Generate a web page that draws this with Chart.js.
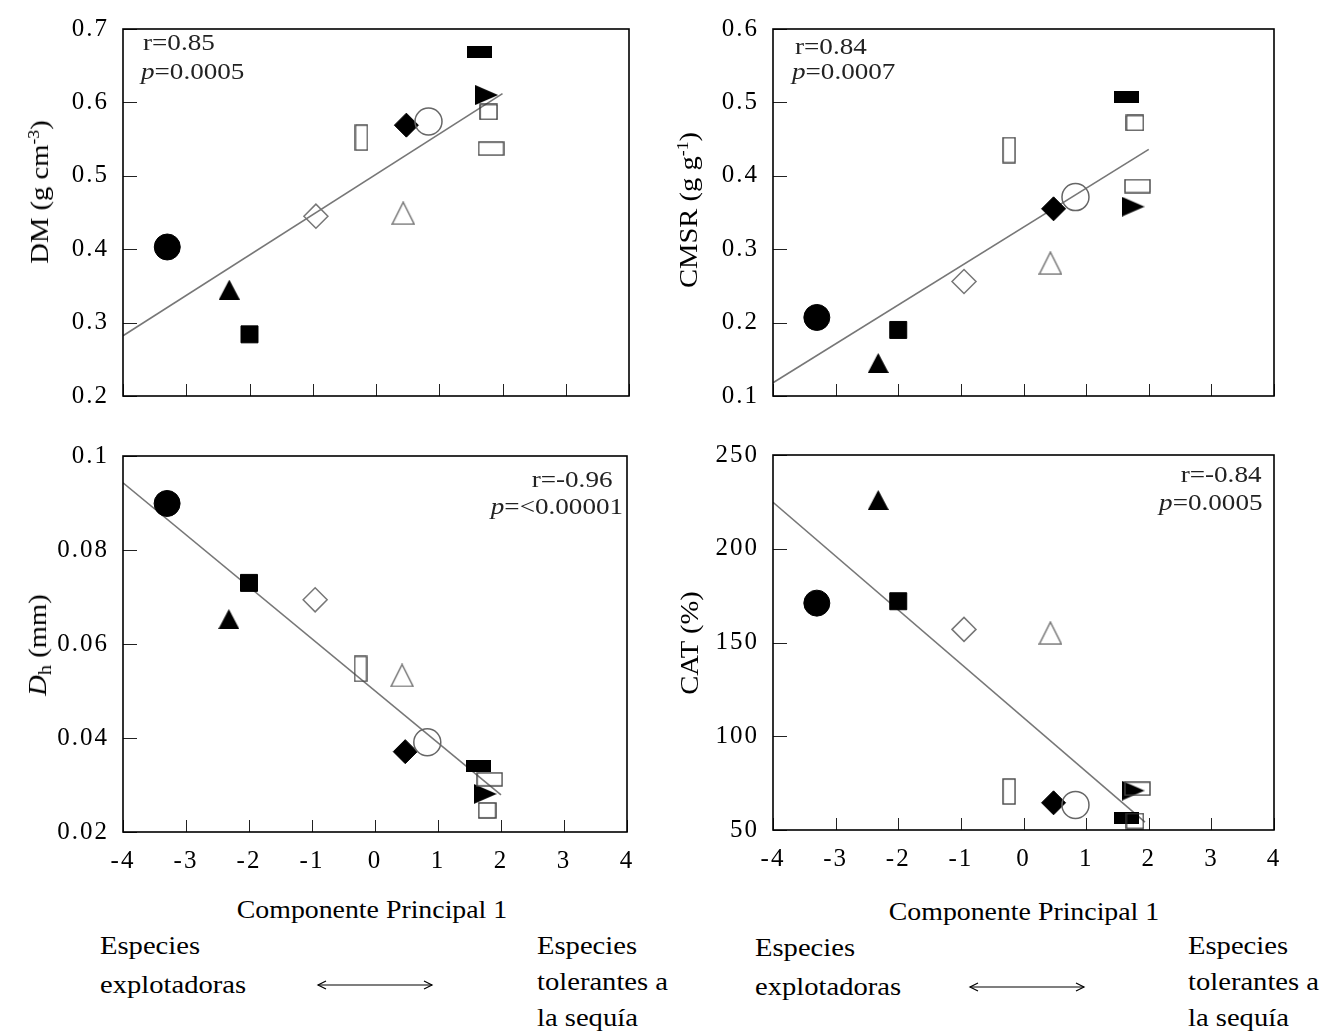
<!DOCTYPE html>
<html>
<head>
<meta charset="utf-8">
<script src="https://cdn.jsdelivr.net/npm/chart.js@4.4.1/dist/chart.umd.min.js"></script>
<style>
  html, body { margin: 0; padding: 0; background: #fff; }
  body { position: relative; width: 1324px; height: 1032px; overflow: hidden;
         font-family: 'Liberation Serif', 'Times New Roman', serif; color: #000; }
  canvas { position: absolute; }
  .t { position: absolute; white-space: nowrap; font-size: 26px; line-height: 26px; }
  .l { transform: scaleX(1.1); transform-origin: 0 0; }
  .r { transform: scaleX(1.1); transform-origin: 100% 0; }
  .c { transform: translateX(-50%) scaleX(1.07); }
  .v { transform: translate(-50%, -50%) rotate(-90deg) scaleX(1.1); }
  .note { font-size: 24px; line-height: 24px; color: #222; }
  .note.l { transform: scaleX(1.13); }
  .note.r { transform: scaleX(1.13); }
  sup { font-size: 0.62em; vertical-align: 0.55em; line-height: 0; }
  sub { font-size: 0.7em; vertical-align: -0.25em; line-height: 0; }
  svg { position: absolute; }
</style>
</head>
<body>
<canvas id="cDM" width="662" height="425" style="left:0;top:0"></canvas>
<canvas id="cCMSR" width="662" height="425" style="left:662px;top:0"></canvas>
<canvas id="cDH" width="662" height="460" style="left:0;top:425px"></canvas>
<canvas id="cCAT" width="662" height="460" style="left:662px;top:425px"></canvas>

<!-- axis titles -->
<div class="t v" style="left:40px;top:192px">DM (g cm<sup>-3</sup>)</div>
<div class="t v" style="left:689px;top:210px">CMSR (g g<sup>-1</sup>)</div>
<div class="t v" style="left:38px;top:645px"><i>D</i><sub>h</sub> (mm)</div>
<div class="t v" style="left:690px;top:643px">CAT (%)</div>
<div class="t c" style="left:372px;top:897px">Componente Principal 1</div>
<div class="t c" style="left:1024px;top:899px">Componente Principal 1</div>

<!-- correlation notes -->
<div class="t note l" style="left:143px;top:30px">r=0.85</div>
<div class="t note l" style="left:141px;top:59px"><i>p</i>=0.0005</div>
<div class="t note l" style="left:795px;top:34px">r=0.84</div>
<div class="t note l" style="left:792px;top:59px"><i>p</i>=0.0007</div>
<div class="t note r" style="right:711px;top:467px">r=-0.96</div>
<div class="t note r" style="right:701px;top:494px"><i>p</i>=&lt;0.00001</div>
<div class="t note r" style="right:62px;top:462px">r=-0.84</div>
<div class="t note r" style="right:61px;top:490px"><i>p</i>=0.0005</div>

<!-- gradient captions -->
<div class="t l" style="left:100px;top:933px">Especies</div>
<div class="t l" style="left:100px;top:972px">explotadoras</div>
<div class="t l" style="left:537px;top:933px">Especies</div>
<div class="t l" style="left:537px;top:969px">tolerantes a</div>
<div class="t l" style="left:537px;top:1005px">la sequía</div>
<div class="t l" style="left:755px;top:935px">Especies</div>
<div class="t l" style="left:755px;top:974px">explotadoras</div>
<div class="t l" style="left:1188px;top:933px">Especies</div>
<div class="t l" style="left:1188px;top:969px">tolerantes a</div>
<div class="t l" style="left:1188px;top:1005px">la sequía</div>

<svg style="left:316px;top:975px" width="118" height="20">
  <g fill="none" stroke="#000" stroke-width="1.2">
    <line x1="2" y1="10" x2="116" y2="10"/>
    <polyline points="10,6 2,10 10,14"/>
    <polyline points="108,6 116,10 108,14"/>
  </g>
</svg>
<svg style="left:968px;top:977px" width="118" height="20">
  <g fill="none" stroke="#000" stroke-width="1.2">
    <line x1="2" y1="10" x2="116" y2="10"/>
    <polyline points="10,6 2,10 10,14"/>
    <polyline points="108,6 116,10 108,14"/>
  </g>
</svg>

<script>
// Principal component 1 score of each species (same order in every array below)
const species = ['s1', 's2', 's3', 's4', 's5', 's6', 's7', 's8', 's9', 's10', 's11', 's12'];
const pc1  = [-3.30, -2.32, -2.00, -0.95, -0.23, 0.43, 0.48, 0.83, 1.64, 1.75, 1.78, 1.82];

// Trait values per species
const dm   = [0.403, 0.345, 0.284, 0.445, 0.552, 0.449, 0.569, 0.574, 0.669, 0.610, 0.587, 0.537];
const cmsr = [0.207, 0.145, 0.190, 0.256, 0.435, 0.281, 0.355, 0.371, 0.507, 0.358, 0.472, 0.386];
const dh   = [0.0899, 0.0653, 0.0730, 0.0694, 0.0547, 0.0533, 0.0371, 0.0391, 0.0340, 0.0281, 0.0246, 0.0312];
const cat  = [171, 226, 172, 157, 70.5, 155, 64.5, 63.4, 56.5, 71, 54.8, 72];

// Fitted regression lines (two end points each)
const dmFitX   = [-4, 2];    const dmFitY   = [0.282, 0.612];
const cmsrFitX = [-4, 2];    const cmsrFitY = [0.118, 0.436];
const dhFitX   = [-4, 2];    const dhFitY   = [0.0943, 0.0279];
const catFitX  = [-4, 1.94]; const catFitY  = [224.8, 54.2];

// Tick values and their labels
const xTicks        = [-4, -3, -2, -1, 0, 1, 2, 3, 4];
const xTickLabels   = ['-4', '-3', '-2', '-1', '0', '1', '2', '3', '4'];
const dmTicks       = [0.2, 0.3, 0.4, 0.5, 0.6, 0.7];
const dmTickLabels  = ['0.2', '0.3', '0.4', '0.5', '0.6', '0.7'];
const cmsrTicks     = [0.1, 0.2, 0.3, 0.4, 0.5, 0.6];
const cmsrTickLabels= ['0.1', '0.2', '0.3', '0.4', '0.5', '0.6'];
const dhTicks       = [0.02, 0.04, 0.06, 0.08, 0.1];
const dhTickLabels  = ['0.02', '0.04', '0.06', '0.08', '0.1'];
const catTicks      = [50, 100, 150, 200, 250];
const catTickLabels = ['50', '100', '150', '200', '250'];

// ---- marker glyphs ----
function glyph(w, h, draw) {
  const c = document.createElement('canvas');
  c.width = w; c.height = h;
  draw(c.getContext('2d'), w, h);
  return c;
}
const tallRectOpen = glyph(14, 27, g => { g.strokeStyle = '#444'; g.lineWidth = 1.4; g.strokeRect(1, 1, 12, 25); });
const wideRectOpen = glyph(27, 15, g => { g.strokeStyle = '#444'; g.lineWidth = 1.4; g.strokeRect(1, 1, 25, 13); });
const wideRectFill = glyph(25, 12, g => { g.fillStyle = '#000'; g.fillRect(0, 0, 25, 12); });
const squareOpen   = glyph(19, 17, g => { g.strokeStyle = '#333'; g.lineWidth = 1.4; g.strokeRect(1, 1, 17, 15); });
const triUpFill    = glyph(21, 20, g => { g.fillStyle = '#000'; g.beginPath(); g.moveTo(10.5, 0); g.lineTo(21, 20); g.lineTo(0, 20); g.closePath(); g.fill(); });
const triUpOpen    = glyph(24, 24, g => { g.strokeStyle = '#777'; g.lineWidth = 1.5; g.beginPath(); g.moveTo(12, 1); g.lineTo(23, 23); g.lineTo(1, 23); g.closePath(); g.stroke(); });
const triRightFill = glyph(23, 20, g => { g.fillStyle = '#000'; g.beginPath(); g.moveTo(0, 0); g.lineTo(23, 10); g.lineTo(0, 20); g.closePath(); g.fill(); });

const markerStyle  = ['circle', triUpFill, 'rect', 'rectRot', tallRectOpen, triUpOpen, 'rectRot', 'circle', wideRectFill, triRightFill, squareOpen, wideRectOpen];
const markerRadius = [13, 10, 12, 12, 10, 10, 12, 13.5, 10, 10, 10, 10];
const markerFill   = ['#000', '#000', '#000', 'rgba(0,0,0,0)', '#000', '#000', '#000', 'rgba(0,0,0,0)', '#000', '#000', '#000', '#000'];
const markerLine   = ['#000', '#000', '#000', '#777', '#444', '#777', '#000', '#666', '#000', '#000', '#333', '#444'];
const markerWidth  = [1, 0, 1, 1.5, 0, 0, 1, 1.5, 0, 0, 0, 0];

Chart.defaults.color = '#000';
Chart.defaults.font.family = "'Liberation Serif', 'Times New Roman', serif";
Chart.defaults.font.size = 25;

// plot frame and inward tick marks
const frameTicks = {
  id: 'frameTicks',
  beforeLayout(chart) { chart.ctx.letterSpacing = '2px'; },
  beforeDraw(chart) { chart.ctx.letterSpacing = '2px'; },
  afterDraw(chart) {
    const { ctx, chartArea: a, scales: { x, y } } = chart;
    ctx.save();
    ctx.strokeStyle = '#222';
    ctx.lineWidth = 1;
    ctx.beginPath();
    x.ticks.forEach(t => {
      const px = Math.round(x.getPixelForValue(t.value)) + 0.5;
      ctx.moveTo(px, a.bottom); ctx.lineTo(px, a.bottom - 12);
    });
    y.ticks.forEach(t => {
      const py = Math.round(y.getPixelForValue(t.value)) + 0.5;
      ctx.moveTo(a.left, py); ctx.lineTo(a.left + 14, py);
    });
    ctx.stroke();
    ctx.strokeStyle = '#000';
    ctx.lineWidth = 1.6;
    ctx.strokeRect(a.left, a.top, a.right - a.left, a.bottom - a.top);
    ctx.restore();
  }
};

function panel(id, o) {
  return new Chart(document.getElementById(id), {
    type: 'scatter',
    data: {
      datasets: [
        {
          data: pc1.map((x, i) => ({ x: x, y: o.values[i] })),
          pointStyle: markerStyle,
          pointRadius: markerRadius,
          backgroundColor: markerFill,
          borderColor: markerLine,
          borderWidth: markerWidth,
          clip: false,
          order: 0
        },
        {
          data: o.fitX.map((x, i) => ({ x: x, y: o.fitY[i] })),
          showLine: true,
          borderColor: '#777',
          borderWidth: 1.6,
          pointRadius: 0,
          order: 1
        }
      ]
    },
    options: {
      responsive: false,
      animation: false,
      events: [],
      layout: { padding: { top: o.top, right: o.right, left: 0, bottom: 0 } },
      plugins: { legend: { display: false }, tooltip: { enabled: false } },
      scales: {
        x: {
          type: 'linear',
          min: xTicks[0], max: xTicks[xTicks.length - 1],
          grid: { display: false, drawTicks: false }, border: { display: false },
          afterBuildTicks: s => { s.ticks = xTicks.map(v => ({ value: v })); },
          ticks: { display: o.xLabels, padding: 14, autoSkip: false, maxRotation: 0,
                   callback: (v, i) => xTickLabels[i] },
          afterFit: s => { s.height = o.xHeight; }
        },
        y: {
          type: 'linear',
          min: o.ticks[0], max: o.ticks[o.ticks.length - 1],
          grid: { display: false, drawTicks: false }, border: { display: false },
          afterBuildTicks: s => { s.ticks = o.ticks.map(v => ({ value: v })); },
          ticks: { padding: 14, autoSkip: false, callback: (v, i) => o.labels[i] },
          afterFit: s => { s.width = o.yWidth; }
        }
      }
    },
    plugins: [frameTicks]
  });
}

panel('cDM',   { values: dm,   fitX: dmFitX,   fitY: dmFitY,   ticks: dmTicks,   labels: dmTickLabels,
                 top: 24, right: 33, yWidth: 123, xHeight: 24, xLabels: false });
panel('cCMSR', { values: cmsr, fitX: cmsrFitX, fitY: cmsrFitY, ticks: cmsrTicks, labels: cmsrTickLabels,
                 top: 26, right: 50, yWidth: 111, xHeight: 22, xLabels: false });
panel('cDH',   { values: dh,   fitX: dhFitX,   fitY: dhFitY,   ticks: dhTicks,   labels: dhTickLabels,
                 top: 31, right: 35, yWidth: 123, xHeight: 53, xLabels: true });
panel('cCAT',  { values: cat,  fitX: catFitX,  fitY: catFitY,  ticks: catTicks,  labels: catTickLabels,
                 top: 30, right: 50, yWidth: 111, xHeight: 55, xLabels: true });
</script>
</body>
</html>
